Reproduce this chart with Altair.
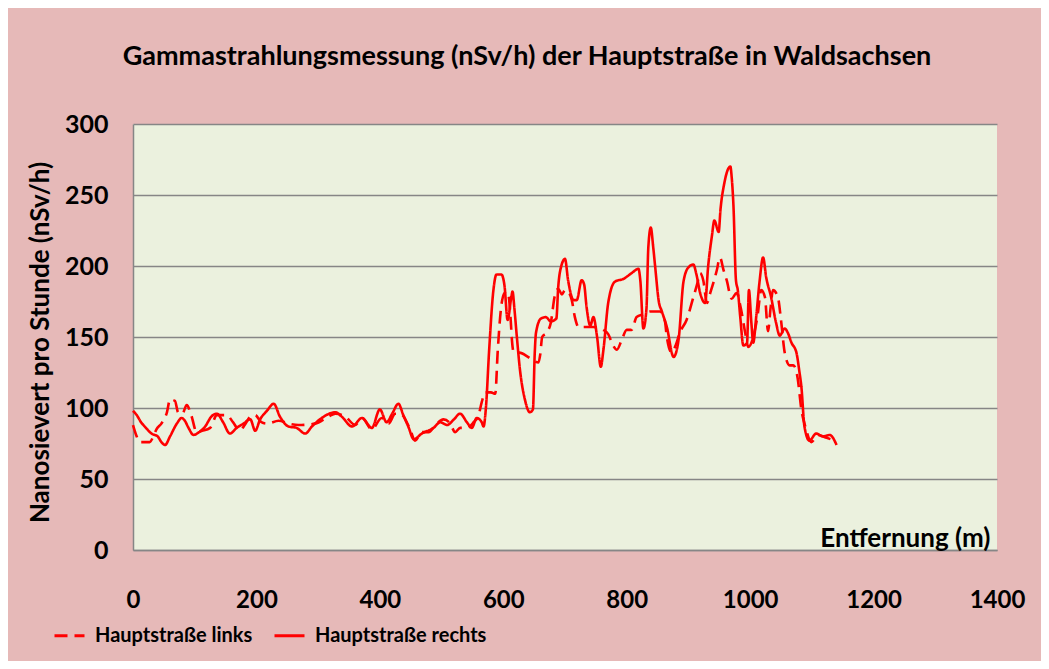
import altair as alt
import pandas as pd

series_names = ["Hauptstraße links", "Hauptstraße rechts"]
x_ticks = [0, 200, 400, 600, 800, 1000, 1200, 1400]
y_ticks = [0, 50, 100, 150, 200, 250, 300]

dist_links = [0, 6, 11, 27, 33, 38, 46, 55, 60, 68, 73, 80, 87, 95, 103, 112, 125, 136, 152, 162,
              173, 181, 190, 198, 208, 217, 236, 252, 268, 295, 317, 328, 344, 360, 371, 387, 403, 414, 425, 433,
              449, 457, 468, 479, 490, 503, 514, 522, 530, 541, 552, 560, 565, 571, 580, 587, 591, 596, 602, 606,
              609, 612, 614, 617, 626, 640, 650, 657, 660, 663, 670, 677, 683, 689, 695, 700, 705, 711, 716, 722,
              746, 762, 770, 778, 784, 792, 800, 808, 816, 827, 838, 854, 862, 865, 873, 880, 886, 897, 908, 914,
              919, 924, 930, 936, 946, 951, 957, 962, 970, 978, 985, 992, 997, 1005, 1012, 1018, 1024, 1029, 1033, 1037,
              1045, 1050, 1056, 1064, 1070, 1077, 1083, 1090, 1099, 1110, 1124, 1137]
val_links = [88, 80, 76, 76, 80, 85, 89, 97, 106, 105, 97, 96, 102, 94, 83, 84, 86, 95, 95, 90,
             84, 88, 94, 95, 90, 89, 91, 89, 88, 89, 94, 96, 94, 88, 93, 85, 93, 89, 96, 96,
             85, 77, 83, 83, 88, 92, 89, 83, 86, 86, 90, 95, 104, 111, 111, 110, 140, 169, 181, 182,
             178, 162, 148, 139, 139, 136, 133, 132, 138, 150, 153, 160, 178, 184, 180, 183, 182, 176, 164, 157,
             157, 155, 152, 144, 141, 148, 155, 155, 164, 166, 168, 168, 161, 150, 139, 145, 153, 162, 178, 187,
             195, 190, 174, 182, 197, 206, 197, 190, 177, 181, 170, 153, 143, 150, 165, 183, 178, 154, 170, 183,
             178, 162, 139, 130, 130, 121, 99, 86, 76, 81, 79, 77]

dist_rechts = [0, 6, 13, 21, 30, 40, 46, 52, 60, 71, 79, 84, 90, 98, 107, 117, 127, 136, 146, 157,
               168, 179, 190, 198, 206, 217, 228, 238, 252, 265, 279, 290, 306, 328, 338, 355, 371, 387, 400, 411,
               420, 430, 438, 446, 455, 468, 487, 498, 509, 520, 530, 541, 549, 557, 565, 568, 572, 577, 584, 589,
               597, 602, 607, 613, 615, 618, 622, 627, 635, 643, 648, 651, 653, 661, 669, 677, 686, 689, 694, 700,
               705, 714, 719, 727, 731, 735, 741, 746, 752, 758, 762, 770, 781, 795, 808, 819, 822, 827, 832, 835,
               839, 843, 846, 852, 857, 865, 876, 884, 892, 900, 908, 913, 919, 927, 932, 938, 942, 949, 952, 958,
               968, 970, 973, 977, 980, 984, 989, 995, 998, 1002, 1005, 1010, 1015, 1021, 1026, 1034, 1042, 1048, 1056, 1061,
               1067, 1075, 1080, 1083, 1088, 1096, 1107, 1118, 1129, 1140]
val_rechts = [98, 95, 90, 86, 82, 80, 76, 74, 80, 89, 93, 91, 86, 81, 83, 87, 94, 96, 90, 82,
              86, 89, 92, 84, 92, 98, 103, 94, 87, 86, 82, 87, 93, 97, 94, 87, 93, 86, 99, 90,
              96, 103, 95, 87, 78, 82, 86, 90, 88, 92, 96, 90, 86, 93, 90, 87, 101, 140, 183, 194,
              194, 186, 162, 178, 182, 170, 150, 127, 106, 97, 99, 139, 153, 163, 164, 161, 163, 185, 200, 205,
              190, 176, 176, 190, 187, 171, 158, 164, 150, 129, 140, 174, 189, 191, 195, 198, 190, 156, 170, 213,
              227, 213, 200, 175, 168, 157, 136, 148, 189, 199, 201, 194, 181, 174, 200, 221, 232, 224, 240, 258,
              270, 263, 242, 190, 183, 164, 144, 146, 183, 160, 146, 165, 188, 206, 192, 178, 160, 151, 156, 153,
              146, 139, 125, 115, 87, 77, 82, 80, 81, 74]

df = pd.concat([
    pd.DataFrame({"Entfernung": dist_links, "Wert": val_links,
                  "Serie": series_names[0], "ord": range(len(dist_links))}),
    pd.DataFrame({"Entfernung": dist_rechts, "Wert": val_rechts,
                  "Serie": series_names[1], "ord": range(len(dist_rechts))}),
])

FONT = "Lato"
TXT = "#000000"

legend = alt.Legend(
    title=None, orient="none", legendX=-80, legendY=495, direction="horizontal",
    symbolType="stroke", symbolSize=900, symbolStrokeWidth=3, labelFont=FONT,
    labelFontSize=20, labelFontWeight="bold", labelColor=TXT, columnPadding=15,
    labelOffset=9, symbolStrokeColor="#FF0000", labelLimit=400,
)

chart = alt.Chart(df).mark_line(strokeWidth=2.6, interpolate="monotone").encode(
    x=alt.X("Entfernung:Q", scale=alt.Scale(domain=[0, 1400], nice=False),
            axis=alt.Axis(values=x_ticks, format="d", title="Entfernung (m)", grid=False, ticks=False,
                          labelFlush=False, labelOverlap=False,
                          labelPadding=38, labelFont=FONT, labelFontSize=24, labelFontWeight="bold",
                          labelColor=TXT, domainColor="#868686", domainWidth=1.5,
                          titleFont=FONT, titleFontSize=26, titleFontWeight="bold", titleColor=TXT,
                          titleX=857, titleY=-4, titleAlign="right", titleBaseline="alphabetic",
                          titleAnchor="end")),
    y=alt.Y("Wert:Q", scale=alt.Scale(domain=[0, 300], nice=False),
            axis=alt.Axis(values=y_ticks, format="d", title="Nanosievert pro Stunde (nSv/h)", grid=True,
                          labelFlush=False, labelOverlap=False,
                          gridColor="#868686", gridWidth=1.5, ticks=False, labelPadding=25,
                          labelFont=FONT, labelFontSize=25, labelFontWeight="bold", labelColor=TXT,
                          domainColor="#868686", domainWidth=1.5,
                          titleFont=FONT, titleFontSize=26, titleFontWeight="bold", titleColor=TXT,
                          titleX=-93, titleY=218, titleAlign="center", titleBaseline="middle",
                          titleAngle=270)),
    color=alt.Color("Serie:N", scale=alt.Scale(domain=series_names, range=["#FF0000", "#FF0000"]),
                    legend=legend),
    strokeDash=alt.StrokeDash("Serie:N", scale=alt.Scale(domain=series_names, range=[[13, 7], [1, 0]]),
                              legend=legend),
    order="ord:Q",
).properties(
    width=864, height=426,
    title=alt.TitleParams("Gammastrahlungsmessung (nSv/h) der Hauptstraße in Waldsachsen",
                          font=FONT, fontSize=27, fontWeight="bold", color=TXT,
                          anchor="middle", dx=-38, offset=20, baseline="alphabetic"),
    autosize=alt.AutoSizeParams(type="none"),
    padding={"left": 125, "top": 116, "right": 44, "bottom": 111},
    background="#E6B9B8",
).configure_view(fill="#EBF1DE", strokeWidth=0)

chart.save("out.html", embed_options={"renderer": "svg", "actions": False})
